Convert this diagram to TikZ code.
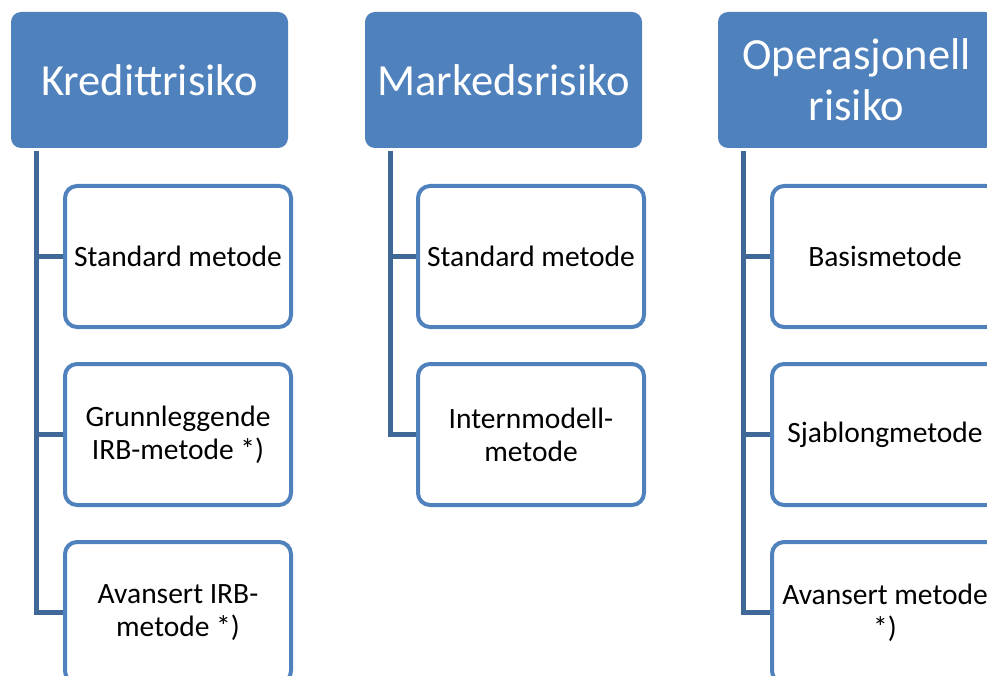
\documentclass[tikz,border=0pt]{standalone}
\usepackage{fontspec}
\setmainfont{Carlito}
\definecolor{hdrblue}{HTML}{4F81BD}
\definecolor{boxblue}{HTML}{4F81BD}
\definecolor{linkblue}{HTML}{3F6797}
\tikzset{
  hdr/.style={draw=none, fill=hdrblue, rounded corners=10pt, minimum width=277pt, minimum height=136pt,
    text=white, align=center, inner sep=0pt, font=\fontsize{44.5}{51}\selectfont},
  child/.style={draw=boxblue, line width=4pt, fill=white, rounded corners=12pt, minimum width=226pt,
    minimum height=141pt, align=center, inner sep=0pt, text=black, font=\fontsize{29.5}{33}\selectfont},
  conn/.style={draw=linkblue, line width=5pt, line join=miter}
}
\begin{document}
\begin{tikzpicture}
\useasboundingbox (0,0) rectangle (987pt,-676pt);
\clip (0,0) rectangle (987pt,-676pt);
% headers
\node[hdr] (h1) at (149.5pt,-80pt) {Kredittrisiko};
\node[hdr] (h2) at (503.5pt,-80pt) {Markedsrisiko};
\node[hdr] (h3) at (856.5pt,-80pt) {Operasjonell\\risiko};
% children
\node[child] (k1) at (178pt,-256.5pt) {Standard metode};
\node[child] (k2) at (178pt,-434.5pt) {Grunnleggende\\IRB-metode *)};
\node[child] (k3) at (178pt,-612.5pt) {Avansert IRB-\\metode *)};
\node[child] (m1) at (531pt,-256.5pt) {Standard metode};
\node[child] (m2) at (531pt,-434.5pt) {Internmodell-\\metode};
\node[child] (o1) at (885pt,-256.5pt) {Basismetode};
\node[child] (o2) at (885pt,-434.5pt) {Sjablongmetode};
\node[child] (o3) at (885pt,-612.5pt) {Avansert metode\\*)};
% connector tops
\coordinate (t1) at ([xshift=26pt,yshift=-3pt]h1.south west);
\coordinate (t2) at ([xshift=26pt,yshift=-3pt]h2.south west);
\coordinate (t3) at ([xshift=26pt,yshift=-3pt]h3.south west);
% connectors
\draw[conn] (t1) |- (k3.west);
\draw[conn] (k1.west) -- (k1.west -| t1);
\draw[conn] (k2.west) -- (k2.west -| t1);
\draw[conn] (t2) |- (m2.west);
\draw[conn] (m1.west) -- (m1.west -| t2);
\draw[conn] (t3) |- (o3.west);
\draw[conn] (o1.west) -- (o1.west -| t3);
\draw[conn] (o2.west) -- (o2.west -| t3);
\end{tikzpicture}
\end{document}
